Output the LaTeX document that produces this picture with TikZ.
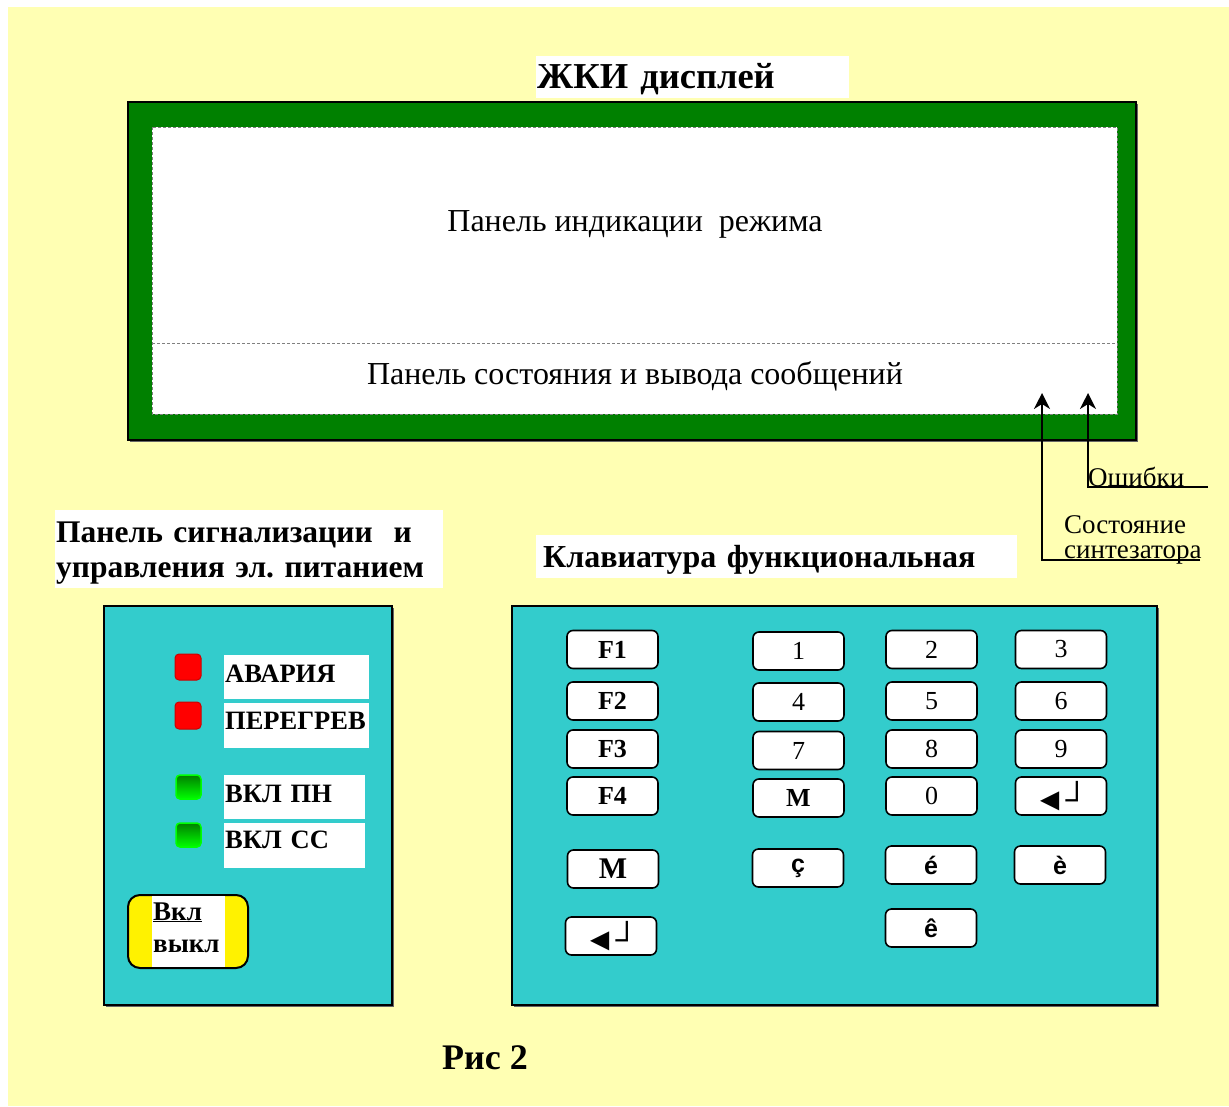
\documentclass[tikz,border=0pt]{standalone}
\usepackage{fontspec}
\setmainfont{Liberation Serif}
\setsansfont{Liberation Sans}
\usepackage{xcolor}
\usepackage{tikz}
\usetikzlibrary{arrows.meta}
\definecolor{paper}{HTML}{FFFFB3}
\definecolor{lcdgreen}{HTML}{008000}
\definecolor{panelcyan}{HTML}{33CCCC}
\definecolor{ledred}{HTML}{FF0000}
\definecolor{ledgreen}{HTML}{00FF00}

\begin{document}
\begin{tikzpicture}[x=1pt,y=-1pt,font=\fontsize{26}{30}\selectfont]
                \tikzstyle{heading}=[fill=white,anchor=north west,inner xsep=1pt,inner ysep=0pt,align=left,font=\fontsize{32}{35}\selectfont\bfseries]
                \tikzstyle{tag}=[fill=white,anchor=north west,inner xsep=1pt,inner ysep=0pt,align=left,font=\fontsize{26.5}{30}\selectfont\bfseries]
                \tikzstyle{note}=[anchor=base west,inner sep=0pt,font=\fontsize{27}{30}\selectfont]
                \tikzstyle{panel}=[draw,line width=2pt,fill=panelcyan]
                \tikzstyle{shadow}=[fill=black!60]
                \tikzstyle{red led}=[draw=ledred!80!black,fill=ledred,rounded corners=4pt,line width=1pt]
                \tikzstyle{green led}=[draw=ledgreen,top color=lcdgreen,bottom color=ledgreen,rounded corners=4pt,line width=1.5pt]
                \tikzstyle{key}=[draw,line width=1.6pt,fill=white,rounded corners=6pt,minimum width=91pt,minimum height=38pt,inner sep=0pt,font=\fontsize{26}{26}\selectfont]
                \tikzstyle{fkey}=[key,font=\fontsize{26}{26}\selectfont\bfseries]
                \tikzstyle{skey}=[key,font=\fontsize{25}{25}\selectfont\sffamily\bfseries]
                \tikzstyle{enter}=[key,font=\fontsize{32}{32}\selectfont\sffamily]
                \tikzstyle{pointer}=[line width=2pt,-{Stealth[length=16pt,width=16pt,inset=5pt]}]
                \useasboundingbox (0,0) rectangle (1229,1106);
                \fill[white] (0,0) rectangle (1229,1106);
                \fill[paper] (8,7) rectangle (1229,1106);
                % display
                \node[heading,text width=311pt,text height=32pt,text depth=10pt,font=\fontsize{36.5}{38}\selectfont\bfseries] (lcd) at (536,56) {ЖКИ дисплей};
                \fill[shadow] (130,104) rectangle (1138,442);
                \draw[line width=2pt,fill=lcdgreen] (128,102) rectangle (1136,440);
                \draw[gray,densely dashed,line width=0.8pt,fill=white] (152,127) rectangle (1117,414);
                \draw[gray,densely dashed,line width=0.8pt] (152,343) -- (1117,343);
                \node[anchor=base,inner sep=0pt,font=\fontsize{32}{35}\selectfont] (mode) at (635,231) {Панель индикации\ \ режима};
                \node[anchor=base,inner sep=0pt,font=\fontsize{32}{35}\selectfont] (status) at (635,384) {Панель состояния и вывода сообщений};
                % pointers
                \coordinate (synttip) at (1042,393);
                \coordinate (synt) at (1042,560);
                \coordinate (syntend) at (1200,560);
                \coordinate (errtip) at (1088,393);
                \coordinate (errc) at (1088,487);
                \coordinate (errend) at (1208,487);
                \draw[pointer] (syntend) -- (synt) -- (synttip);
                \draw[pointer] (errend) -- (errc) -- (errtip);
                \node[note] (err) at (1088,486) {Ошибки};
                \node[note] (synt1) at (1064,533) {Состояние};
                \node[note] (synt2) at (1064,558) {синтезатора};
                % power panel
                \node[heading,text width=386pt,text height=32pt,text depth=46pt,font=\fontsize{31.5}{35}\selectfont\bfseries] (ledtitle) at (55,510) {Панель сигнализации\ \ и\\управления эл.\ питанием};
                \fill[shadow] (106,608) rectangle (394,1007);
                \draw[panel] (104,606) rectangle (392,1005);
                \draw[red led] (175,654) rectangle (201,680);
                \draw[red led] (175,702) rectangle (201,729);
                \draw[green led] (176,775) rectangle (201,799);
                \draw[green led] (176,823) rectangle (201,847);
                \node[tag,text width=143pt,text height=27pt,text depth=17pt] (alarm) at (224,655) {АВАРИЯ};
                \node[tag,text width=143pt,text height=26pt,text depth=19pt] (heat) at (224,703) {ПЕРЕГРЕВ};
                \node[tag,text width=139pt,text height=27pt,text depth=17pt] (pn) at (224,775) {ВКЛ ПН};
                \node[tag,text width=139pt,text height=25pt,text depth=20pt] (cc) at (224,823) {ВКЛ СС};
                \draw[line width=2pt,fill=yellow,rounded corners=12pt] (128,895) rectangle (248,968);
                \fill[white] (152,896) rectangle (225,967);
                \node[note,font=\fontsize{27}{30}\selectfont\bfseries] (on) at (153,920) {\underline{Вкл}};
                \node[note,font=\fontsize{27}{30}\selectfont\bfseries] (off) at (153,952) {выкл};
                % keyboard
                \node[heading,text width=467pt,inner xsep=7pt,text height=32pt,text depth=11pt] (kbtitle) at (536,535) {Клавиатура функциональная};
                \fill[shadow] (514,608) rectangle (1159,1007);
                \draw[panel] (512,606) rectangle (1157,1005);
                \node[fkey] (f1) at (612.5,649.5) {F1};
                \node[fkey] (f2) at (612.5,701) {F2};
                \node[fkey] (f3) at (612.5,749) {F3};
                \node[fkey] (f4) at (612.5,796) {F4};
                \node[key] (k1) at (798.5,651) {1};
                \node[key] (k4) at (798.5,702) {4};
                \node[key] (k7) at (798.5,750.5) {7};
                \node[fkey] (km) at (798.5,798) {M};
                \node[key] (k2) at (931.5,649.5) {2};
                \node[key] (k5) at (931.5,701) {5};
                \node[key] (k8) at (931.5,749) {8};
                \node[key] (k0) at (931.5,796) {0};
                \node[key] (k3) at (1061,649.5) {3};
                \node[key] (k6) at (1061,701) {6};
                \node[key] (k9) at (1061,749) {9};
                \node[enter] (kent) at (1061,796) {◄┘};
                \node[fkey,font=\fontsize{30}{30}\selectfont\bfseries] (mode key) at (613,869) {M};
                \node[skey] (cc key) at (798,868) {ç};
                \node[skey] (ea key) at (931,865) {é};
                \node[skey] (eg key) at (1060,865) {è};
                \node[enter] (ent key) at (611,936) {◄┘};
                \node[skey] (ec key) at (931,928) {ê};
                \node[anchor=base west,inner sep=0pt,font=\fontsize{36}{38}\selectfont\bfseries] (fig) at (442,1069) {Рис 2};
            \end{tikzpicture}
\end{document}
